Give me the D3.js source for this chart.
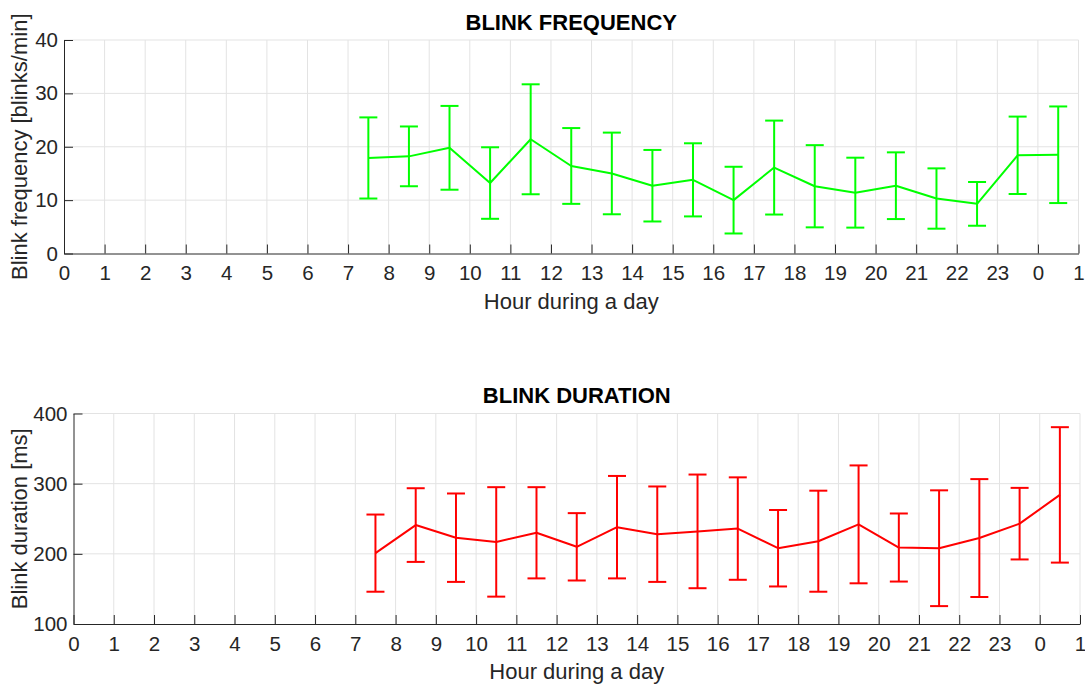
<!DOCTYPE html>
<html>
<head>
<meta charset="utf-8">
<script src="https://cdn.jsdelivr.net/npm/d3@7/dist/d3.min.js"></script>
<style>
  html, body { margin: 0; padding: 0; background: #fff; }
  svg { display: block; font-family: "Liberation Sans", Arial, Helvetica, sans-serif; }
</style>
</head>
<body>
<svg id="chart" width="1085" height="687"></svg>
<script>
// Hour positions (centre of each hourly bin) and x-axis tick labels
const hours = [7.5, 8.5, 9.5, 10.5, 11.5, 12.5, 13.5, 14.5, 15.5, 16.5, 17.5, 18.5, 19.5, 20.5, 21.5, 22.5, 23.5, 24.5];
const hourTicks = [0, 1, 2, 3, 4, 5, 6, 7, 8, 9, 10, 11, 12, 13, 14, 15, 16, 17, 18, 19, 20, 21, 22, 23, 24, 25];
const hourTickLabels = ["0", "1", "2", "3", "4", "5", "6", "7", "8", "9", "10", "11", "12", "13", "14", "15", "16", "17", "18", "19", "20", "21", "22", "23", "0", "1"];

// Blink frequency [blinks/min]: mean and standard deviation per hour
const freqMean = [17.9, 18.2, 19.8, 13.2, 21.4, 16.4, 15.0, 12.7, 13.8, 10.0, 16.1, 12.6, 11.4, 12.7, 10.3, 9.3, 18.4, 18.5];
const freqSd   = [7.6, 5.6, 7.85, 6.7, 10.3, 7.1, 7.65, 6.7, 6.85, 6.25, 8.8, 7.7, 6.55, 6.25, 5.65, 4.1, 7.25, 9.05];
const freqTicks = [0, 10, 20, 30, 40];

// Blink duration [ms]: mean and standard deviation per hour
const durMean = [201, 241, 223, 217, 230, 210, 238, 228, 232, 236, 208, 218, 242, 209, 208, 222.5, 243, 284];
const durSd   = [55, 52.5, 63, 78, 65, 48, 73, 68, 81, 73, 54.5, 72, 84, 48.5, 82.5, 84, 51, 96.5];
const durTicks = [100, 200, 300, 400];

const svg = d3.select("#chart");
svg.append("rect").attr("width", 1085).attr("height", 687).attr("fill", "#fff");

const AXIS = "#262626";
const GRID = "#e3e3e3";
const TICK_FONT = 20.5;
const LABEL_FONT = 22;

function panel(cfg) {
  const { left, right, top, bottom, yDomain, yTicks, means, sds, color, title, yLabel, titleY } = cfg;
  const x = d3.scaleLinear().domain([0, 25]).range([left, right]);
  const y = d3.scaleLinear().domain(yDomain).range([bottom, top]);
  const g = svg.append("g");

  // grid
  g.append("g").selectAll("line").data(hourTicks.slice(1)).join("line")
    .attr("x1", d => x(d)).attr("x2", d => x(d))
    .attr("y1", top).attr("y2", bottom)
    .attr("stroke", GRID).attr("stroke-width", 1);
  g.append("g").selectAll("line").data(yTicks.slice(1)).join("line")
    .attr("x1", left).attr("x2", right)
    .attr("y1", d => y(d)).attr("y2", d => y(d))
    .attr("stroke", GRID).attr("stroke-width", 1);

  // x axis (ticks pointing inward)
  const xAxis = d3.axisBottom(x).tickValues(hourTicks)
    .tickFormat((d, i) => hourTickLabels[i]).tickSizeInner(-9).tickSizeOuter(0).tickPadding(12);
  const gx = g.append("g").attr("transform", `translate(0,${bottom})`).call(xAxis);
  gx.select(".domain").attr("stroke", AXIS);
  gx.selectAll(".tick line").attr("stroke", AXIS);
  gx.selectAll(".tick text").attr("fill", AXIS).attr("font-size", TICK_FONT);

  // y axis (ticks pointing inward)
  const yAxis = d3.axisLeft(y).tickValues(yTicks).tickSizeInner(-9).tickSizeOuter(0).tickPadding(6);
  const gy = g.append("g").attr("transform", `translate(${left},0)`).call(yAxis);
  gy.select(".domain").attr("stroke", AXIS);
  gy.selectAll(".tick line").attr("stroke", AXIS);
  gy.selectAll(".tick text").attr("fill", AXIS).attr("font-size", TICK_FONT);

  // error bars
  const cap = 9;
  const eb = g.append("g").attr("stroke", color).attr("stroke-width", 2).attr("fill", "none");
  hours.forEach((h, i) => {
    const cx = x(h), lo = y(means[i] - sds[i]), hi = y(means[i] + sds[i]);
    eb.append("line").attr("x1", cx).attr("x2", cx).attr("y1", lo).attr("y2", hi);
    eb.append("line").attr("x1", cx - cap).attr("x2", cx + cap).attr("y1", lo).attr("y2", lo);
    eb.append("line").attr("x1", cx - cap).attr("x2", cx + cap).attr("y1", hi).attr("y2", hi);
  });

  // mean line
  const line = d3.line().x((d, i) => x(hours[i])).y(d => y(d));
  g.append("path").datum(means).attr("d", line)
    .attr("fill", "none").attr("stroke", color).attr("stroke-width", 2)
    .attr("stroke-linejoin", "round");

  // title and labels
  g.append("text").attr("x", (left + right) / 2).attr("y", titleY)
    .attr("text-anchor", "middle").attr("font-weight", "bold")
    .attr("font-size", LABEL_FONT).attr("fill", "#000").text(title);
  g.append("text").attr("x", (left + right) / 2).attr("y", bottom + 55)
    .attr("text-anchor", "middle").attr("font-size", LABEL_FONT).attr("fill", AXIS)
    .text("Hour during a day");
  g.append("text")
    .attr("transform", `translate(27,${(top + bottom) / 2}) rotate(-90)`)
    .attr("text-anchor", "middle").attr("font-size", LABEL_FONT).attr("fill", AXIS)
    .text(yLabel);
}

panel({
  left: 64, right: 1078.5, top: 40, bottom: 253.5,
  yDomain: [0, 40], yTicks: freqTicks, means: freqMean, sds: freqSd,
  color: "#00ff00", title: "BLINK FREQUENCY", yLabel: "Blink frequency [blinks/min]", titleY: 30
});

panel({
  left: 73.5, right: 1080, top: 413.5, bottom: 624,
  yDomain: [100, 400], yTicks: durTicks, means: durMean, sds: durSd,
  color: "#ff0000", title: "BLINK DURATION", yLabel: "Blink duration [ms]", titleY: 403
});
</script>
</body>
</html>
